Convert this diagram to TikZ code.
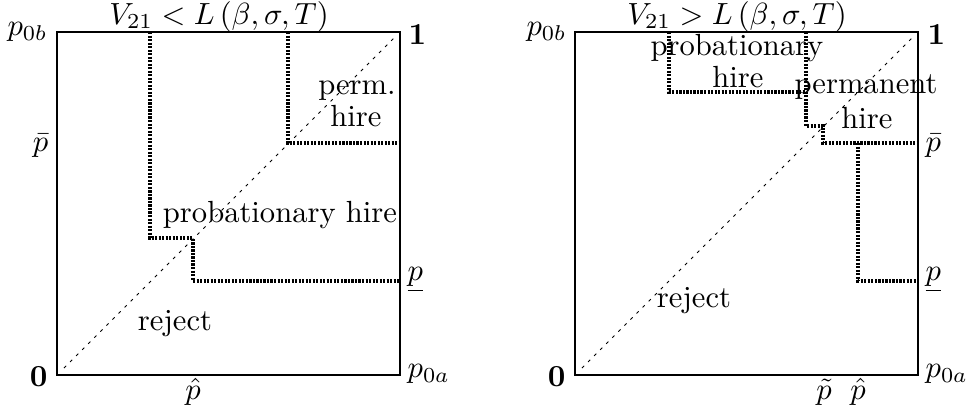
\documentclass[tikz,border=0pt]{standalone}
\begin{document}
\begin{tikzpicture}[x=0.3268pt,y=0.3268pt,
  lab/.style={inner sep=0pt,font=\normalsize},
  frame/.style={draw=black,line width=0.65pt},
  bound/.style={line width=1.1pt,dash pattern=on 0.7pt off 0.45pt},
  diag/.style={line width=0.28pt,dash pattern=on 1pt off 1.8pt}]
\useasboundingbox (0,0) rectangle (968,417);
% ---------------- left panel ----------------
\coordinate (L00) at (57,42);
\coordinate (L11) at (400,385);
\draw[frame] (L00) rectangle (L11);
\coordinate (Lda) at (64,49);
\coordinate (Ldb) at (394,379);
\draw[diag] (Lda) -- (Ldb);
\coordinate (La1) at (150,385);
\coordinate (La2) at (150,179);
\coordinate (La3) at (193,179);
\coordinate (La4) at (193,136);
\coordinate (La5) at (400,136);
\draw[bound] (La1) -- (La2) -- (La3) -- (La4) -- (La5);
\coordinate (Lb1) at (288,385);
\coordinate (Lb2) at (288,274);
\coordinate (Lb3) at (400,274);
\draw[bound] (Lb1) -- (Lb2) -- (Lb3);
\node[lab,anchor=base] (Ltitle) at (219,393) {$V_{21} < L\left(\beta,\sigma,T\right)$};
\node[lab,anchor=east] (Lp0b) at (48,385) {$p_{0b}$};
\node[lab,anchor=east] (Lpbar) at (49,271) {$\bar{p}$};
\node[lab,anchor=west] (Lone) at (408,382) {$\mathbf{1}$};
\node[lab,anchor=west] (Lpund) at (407,137) {$\underline{p}$};
\node[lab,anchor=west] (Lp0a) at (407,43) {$p_{0a}$};
\node[lab,anchor=east] (Lzero) at (48,40) {$\mathbf{0}$};
\node[lab] (Lphat) at (193,25) {$\hat{p}$};
\node[lab,anchor=base] (Lperm) at (357,323) {perm.};
\node[lab,anchor=base] (Lhire) at (356,291) {hire};
\node[lab,anchor=base] (Lprob) at (280,195) {probationary hire};
\node[lab,anchor=base] (Lrej) at (175,87) {reject};
% ---------------- right panel ----------------
\coordinate (R00) at (575,42);
\coordinate (R11) at (918,385);
\draw[frame] (R00) rectangle (R11);
\coordinate (Rda) at (582,49);
\coordinate (Rdb) at (912,379);
\draw[diag] (Rda) -- (Rdb);
\coordinate (Ra1) at (669,385);
\coordinate (Ra2) at (669,325);
\coordinate (Ra3) at (806,325);
\draw[bound] (Ra1) -- (Ra2) -- (Ra3);
\coordinate (Rb1) at (806,385);
\coordinate (Rb2) at (806,291);
\coordinate (Rb3) at (823,291);
\coordinate (Rb4) at (823,274);
\coordinate (Rb5) at (918,274);
\draw[bound] (Rb1) -- (Rb2) -- (Rb3) -- (Rb4) -- (Rb5);
\coordinate (Rc1) at (858,274);
\coordinate (Rc2) at (858,136);
\coordinate (Rc3) at (918,136);
\draw[bound] (Rc1) -- (Rc2) -- (Rc3);
\node[lab,anchor=base] (Rtitle) at (737,393) {$V_{21} > L\left(\beta,\sigma,T\right)$};
\node[lab,anchor=east] (Rp0b) at (567,385) {$p_{0b}$};
\node[lab,anchor=west] (Rone) at (927,382) {$\mathbf{1}$};
\node[lab,anchor=west] (Rpbar) at (925,271) {$\bar{p}$};
\node[lab,anchor=west] (Rpund) at (925,137) {$\underline{p}$};
\node[lab,anchor=west] (Rp0a) at (925,43) {$p_{0a}$};
\node[lab,anchor=east] (Rzero) at (566,40) {$\mathbf{0}$};
\node[lab] (Rptil) at (824,25) {$\tilde{p}$};
\node[lab] (Rphat) at (858,25) {$\hat{p}$};
\node[lab,anchor=base] (Rprob) at (737,362) {probationary};
\node[lab,anchor=base] (Rhire1) at (738,330) {hire};
\node[lab,anchor=base] (Rperm) at (866,324) {permanent};
\node[lab,anchor=base] (Rhire2) at (867,289) {hire};
\node[lab,anchor=base] (Rrej) at (694,110) {reject};
\end{tikzpicture}
\end{document}
